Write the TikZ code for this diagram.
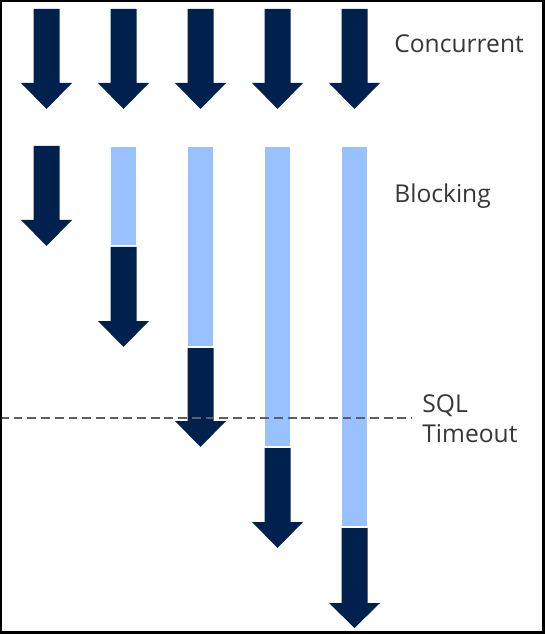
\documentclass[tikz,border=0pt]{standalone}
\usepackage{fontspec}
\setmainfont{Open Sans}
\usepackage{tikz}
\usetikzlibrary{positioning}

\definecolor{navy}{RGB}{0,33,78}
\definecolor{waitblue}{RGB}{153,192,255}
\definecolor{textgray}{RGB}{55,55,55}
\definecolor{dashgray}{RGB}{95,95,95}

\begin{document}
\begin{tikzpicture}[
            x=0.02cm, y=-0.02cm,
            every node/.style={font=\fontsize{14}{16.8}\selectfont, text=textgray, inner sep=0pt},
            down/.style={fill=navy},
            wait/.style={fill=waitblue, draw=white, line width=0.4pt}
        ]
        \useasboundingbox (0,0) rectangle (545,634);

        % top row, concurrent
        \fill[down] (33.5,9) -- (59.5,9) -- (59.5,83) -- (72,83) -- (46.5,109) -- (21,83) -- (33.5,83) -- cycle;
        \fill[down] (110.5,9) -- (136.5,9) -- (136.5,83) -- (149,83) -- (123.5,109) -- (98,83) -- (110.5,83) -- cycle;
        \fill[down] (187.5,9) -- (213.5,9) -- (213.5,83) -- (226,83) -- (200.5,109) -- (175,83) -- (187.5,83) -- cycle;
        \fill[down] (264.5,9) -- (290.5,9) -- (290.5,83) -- (303,83) -- (277.5,109) -- (252,83) -- (264.5,83) -- cycle;
        \fill[down] (341.5,9) -- (367.5,9) -- (367.5,83) -- (380,83) -- (354.5,109) -- (329,83) -- (341.5,83) -- cycle;

        % second row, blocking
        \draw[wait] (110.5,146) rectangle (136.5,245.5);
        \draw[wait] (187.5,146) rectangle (213.5,346);
        \draw[wait] (264.5,146) rectangle (290.5,446);
        \draw[wait] (341.5,146) rectangle (367.5,526);

        \fill[down] (33.5,146) -- (59.5,146) -- (59.5,220) -- (72,220) -- (46.5,246) -- (21,220) -- (33.5,220) -- cycle;
        \fill[down] (110.5,247) -- (136.5,247) -- (136.5,321) -- (149,321) -- (123.5,347) -- (98,321) -- (110.5,321) -- cycle;
        \fill[down] (187.5,348) -- (213.5,348) -- (213.5,421) -- (226,421) -- (200.5,447) -- (175,421) -- (187.5,421) -- cycle;
        \fill[down] (264.5,448) -- (290.5,448) -- (290.5,522) -- (303,522) -- (277.5,548) -- (252,522) -- (264.5,522) -- cycle;
        \fill[down] (341.5,528) -- (367.5,528) -- (367.5,603) -- (380,603) -- (354.5,628) -- (329,603) -- (341.5,603) -- cycle;

        \node[anchor=base west] (concurrent) at (394,53) {Concurrent};
        \node[anchor=base west] (blocking) at (394,203) {Blocking};
        \node[anchor=base west, align=left] (timeout) at (422,442) {SQL\\Timeout};

        \coordinate (dashL) at (0,418);
        \coordinate (dashR) at (412,418);
        \draw[dashgray, line width=0.7pt, dash pattern=on 5pt off 2.8pt] (dashL) -- (dashR);

        % frame
        \draw[black, line width=1.2pt] (1,1) rectangle (543.5,632.5);

    \end{tikzpicture}
\end{document}
